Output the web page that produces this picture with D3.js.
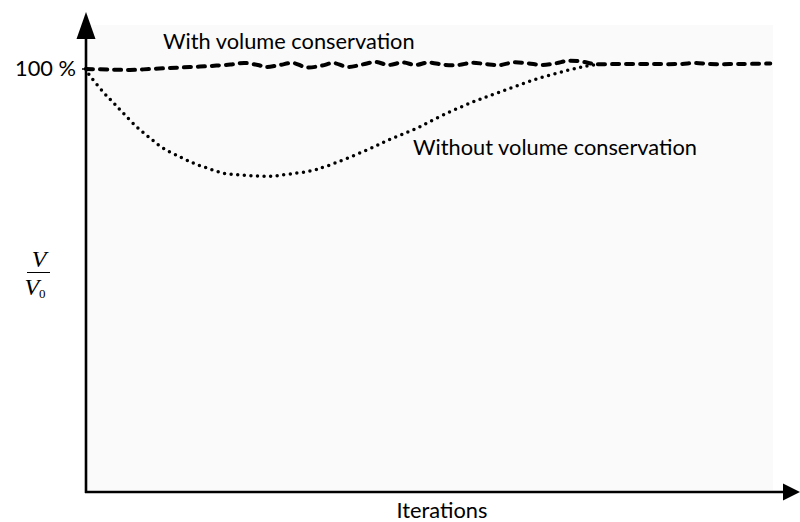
<!DOCTYPE html>
<html>
<head>
<meta charset="utf-8">
<script src="https://cdn.jsdelivr.net/npm/d3@7"></script>
<style>
  html, body { margin: 0; padding: 0; background: #ffffff; }
  svg { display: block; }
</style>
</head>
<body>
<svg id="chart" width="800" height="522"></svg>
<script>
// Iteration positions (0–100) and relative volume V/V0 in percent
const withIter = [0, 3.5, 6.4, 9.3, 12.2, 15.1, 18.1, 21, 23.1, 25, 26.2, 28.2, 30.1, 32.2, 34.4, 36, 38.1, 40.2, 42.2, 44, 46.1, 48, 49.8, 52.3, 54.2, 56.2, 58.1, 60.3, 62.2, 64.3, 66.4, 68.4, 70.2, 72.2, 74.1, 77.7, 82.1, 86.5, 88.7, 90.8, 95.2, 99.6];
const withVol  = [99.88, 99.76, 99.65, 99.88, 100.12, 100.35, 100.59, 100.94, 101.3, 100.83, 100.35, 100.83, 101.3, 100.24, 100.71, 101.3, 100.35, 100.94, 101.53, 100.83, 101.42, 100.83, 101.42, 100.83, 100.83, 101.37, 101.06, 100.83, 101.46, 101.23, 100.83, 101.23, 101.84, 101.61, 101.06, 101.06, 101.06, 101.06, 101.3, 101.06, 101.06, 101.18];

const withoutIter = [0, 0.3, 2.5, 3.9, 5.4, 7.4, 9.3, 11.2, 13.7, 15.6, 17.6, 19.9, 22.4, 24.9, 27.2, 29.7, 32.6, 35.1, 40.9, 44.7, 48.2, 52, 56.3, 60.3, 65.1, 70, 72.9, 74.8];
const withoutVol  = [100, 98.94, 94.45, 92.09, 89.49, 86.19, 83.59, 81.23, 79.1, 77.68, 76.51, 75.32, 74.85, 74.61, 74.61, 75.09, 75.8, 76.98, 80.76, 83.59, 85.95, 89.02, 92.09, 94.45, 97.28, 99.53, 100.59, 101.06];

const yTickValues = [100];
const yTickLabels = ["100 %"];
const seriesLabels = ["With volume conservation", "Without volume conservation"];
const xAxisTitle = "Iterations";

const svg = d3.select("#chart");
const plotLeft = 86, plotRight = 773, plotTop = 25, plotBottom = 492;

const x = d3.scaleLinear().domain([0, 100]).range([plotLeft, plotRight]);
const y = d3.scaleLinear().domain([0, 100]).range([plotBottom, 68.5]);

// plot background
svg.append("rect")
  .attr("x", plotLeft).attr("y", plotTop)
  .attr("width", plotRight - plotLeft).attr("height", plotBottom - 2 - plotTop)
  .attr("fill", "#fafafa");

const font = "Lato, 'Open Sans', sans-serif";
const fontSize = 21.8;

// axes with arrowheads
svg.append("line")
  .attr("x1", plotLeft).attr("x2", plotLeft)
  .attr("y1", plotBottom + 1).attr("y2", 36)
  .attr("stroke", "#000").attr("stroke-width", 2.6);
svg.append("path")
  .attr("d", `M${plotLeft},12 L${plotLeft - 9.5},39 L${plotLeft + 9.5},39 Z`)
  .attr("fill", "#000");

svg.append("line")
  .attr("x1", plotLeft - 1).attr("x2", 786)
  .attr("y1", plotBottom).attr("y2", plotBottom)
  .attr("stroke", "#000").attr("stroke-width", 2.6);
svg.append("path")
  .attr("d", `M800,${plotBottom} L783,${plotBottom - 8.5} L783,${plotBottom + 8.5} Z`)
  .attr("fill", "#000");

// y tick
const yAxis = d3.axisLeft(y).tickValues(yTickValues)
  .tickFormat((d, i) => yTickLabels[i]).tickSize(4).tickPadding(6);
const gy = svg.append("g").attr("transform", `translate(${plotLeft},0)`).call(yAxis);
gy.select(".domain").remove();
gy.selectAll(".tick line").attr("stroke", "#000").attr("stroke-width", 1.5);
gy.selectAll(".tick text")
  .attr("font-family", font).attr("font-size", fontSize).attr("fill", "#000");

const line = d3.line().curve(d3.curveCatmullRom.alpha(0.5));

// without volume conservation: dotted
svg.append("path")
  .attr("d", line(withoutIter.map((d, i) => [x(d), y(withoutVol[i])])))
  .attr("fill", "none").attr("stroke", "#000")
  .attr("stroke-width", 3.5).attr("stroke-linecap", "round")
  .attr("stroke-dasharray", "0 6.6");

// with volume conservation: dashed
svg.append("path")
  .attr("d", line(withIter.map((d, i) => [x(d), y(withVol[i])])))
  .attr("fill", "none").attr("stroke", "#000")
  .attr("stroke-width", 4).attr("stroke-linecap", "round")
  .attr("stroke-dasharray", "7 7");

// series labels
svg.append("text").attr("x", 163).attr("y", 49)
  .attr("font-family", font).attr("font-size", fontSize).text(seriesLabels[0]);
svg.append("text").attr("x", 413).attr("y", 155)
  .attr("font-family", font).attr("font-size", fontSize).text(seriesLabels[1]);

// x axis title
svg.append("text").attr("x", 442).attr("y", 518).attr("text-anchor", "middle")
  .attr("font-family", font).attr("font-size", fontSize).text(xAxisTitle);

// y axis title: V / V0
const serif = "'Liberation Serif', 'DejaVu Serif', serif";
svg.append("text").attr("x", 39).attr("y", 267).attr("text-anchor", "middle")
  .attr("font-family", serif).attr("font-style", "italic").attr("font-size", 24).text("V");
svg.append("line").attr("x1", 27).attr("x2", 50).attr("y1", 272.5).attr("y2", 272.5)
  .attr("stroke", "#000").attr("stroke-width", 1);
const den = svg.append("text").attr("x", 35).attr("y", 295).attr("text-anchor", "middle")
  .attr("font-family", serif).attr("font-style", "italic").attr("font-size", 24);
den.append("tspan").text("V");
den.append("tspan").attr("font-style", "normal").attr("font-size", 13).attr("dy", 3).text("0");
</script>
</body>
</html>
